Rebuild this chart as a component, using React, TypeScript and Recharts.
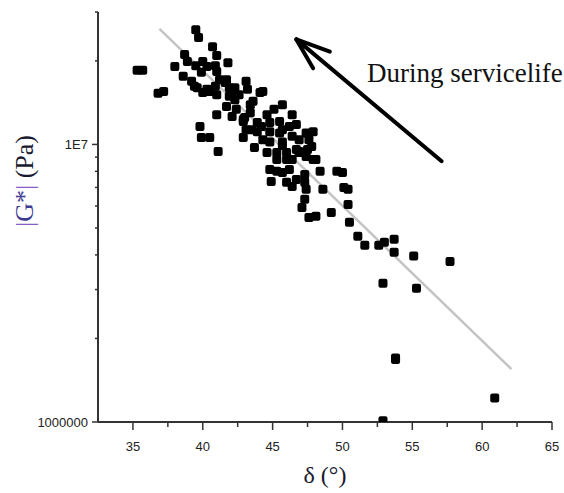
import React from 'react';
import { ScatterChart, Scatter, XAxis, YAxis, ReferenceLine } from 'recharts';

// phase angle (deg) and complex modulus (Pa)
const deltaDeg = [
  35.3, 35.7, 36.8, 37.2, 39.5, 39.7, 40.7, 41.0, 41.8, 38.7,
  38.0, 40.0, 40.9, 39.5, 38.6, 39.2, 39.6, 40.3, 40.9, 39.9,
  40.3, 41.0, 41.7, 42.3, 43.1, 43.2, 44.1, 41.6, 40.0, 41.0,
  42.1, 43.6, 41.9, 41.7, 41.0, 42.4, 43.4, 45.7, 46.4, 44.6,
  42.1, 43.0, 42.9, 43.9, 44.8, 45.5, 46.2, 46.7, 43.1, 39.8,
  39.9, 40.5, 41.1, 42.9, 43.9, 44.3, 43.7, 44.8, 45.5, 46.4,
  47.4, 47.8, 46.7, 45.3, 44.6, 46.0, 47.6, 47.9, 45.7, 46.9,
  47.5, 44.8, 47.4, 48.1, 46.0, 44.8, 45.3, 46.2, 48.4, 44.9,
  46.0, 46.7, 46.4, 47.3, 47.4, 48.6, 45.7, 49.6, 50.0, 50.1,
  50.4, 47.3, 47.1, 47.6, 48.1, 49.2, 50.4, 50.5, 51.1, 51.6,
  52.6, 53.0, 53.7, 53.7, 55.1, 57.7, 52.9, 55.3, 53.8, 53.8,
  60.9, 52.9, 38.9, 39.4, 40.5, 42.3, 44.3, 42.9, 43.5, 44.2,
  45.7, 46.9, 46.4, 45.3, 47.3, 41.2, 41.9, 42.6, 43.4, 45.1,
  45.7, 46.9, 47.9,
];
const modulusPa = [
  1.85e7, 1.85e7, 1.53e7, 1.55e7, 2.59e7, 2.43e7, 2.25e7, 2.09e7, 1.97e7, 2.11e7,
  1.91e7, 1.99e7, 1.92e7, 1.92e7, 1.76e7, 1.69e7, 1.6e7, 1.58e7, 1.62e7, 1.82e7,
  1.91e7, 1.83e7, 1.71e7, 1.6e7, 1.69e7, 1.58e7, 1.54e7, 1.67e7, 1.54e7, 1.51e7,
  1.54e7, 1.43e7, 1.49e7, 1.37e7, 1.28e7, 1.34e7, 1.3e7, 1.39e7, 1.28e7, 1.28e7,
  1.26e7, 1.25e7, 1.21e7, 1.2e7, 1.2e7, 1.21e7, 1.16e7, 1.18e7, 1.13e7, 1.16e7,
  1.06e7, 1.06e7, 9.44e6, 1.06e7, 1.11e7, 1.04e7, 9.75e6, 1.02e7, 1.1e7, 1.07e7,
  1.1e7, 9.84e6, 9.59e6, 9.36e6, 9.36e6, 9.36e6, 1.04e7, 1.11e7, 9.92e6, 9.36e6,
  9.59e6, 1.11e7, 9.05e6, 8.83e6, 8.83e6, 8.13e6, 8.0e6, 8.13e6, 8.0e6, 7.36e6,
  7.3e6, 7.48e6, 7.06e6, 7.3e6, 6.89e6, 6.89e6, 7.93e6, 8.0e6, 7.93e6, 7.0e6,
  6.89e6, 6.34e6, 5.93e6, 5.46e6, 5.51e6, 5.69e6, 6.08e6, 5.24e6, 4.67e6, 4.33e6,
  4.33e6, 4.44e6, 4.55e6, 4.09e6, 3.96e6, 3.79e6, 3.16e6, 3.03e6, 1.70e6, 1.68e6,
  1.22e6, 1.01e6, 1.99e7, 1.62e7, 1.55e7, 1.45e7, 1.55e7, 1.23e7, 1.13e7, 1.16e7,
  1.02e7, 9.44e6, 8.83e6, 8.83e6, 7.8e6, 1.71e7, 1.6e7, 1.51e7, 1.39e7, 1.34e7,
  1.13e7, 1.04e7, 8.83e6,
];

// linear fit drawn across the cloud
const fitDelta = [36.9, 62.1];
const fitModulus = [2.61e7, 1.55e6];

// "During service life" arrow (tail, tip, two barbs)
const arrowDelta = [57.1, 46.7, 49.1, 47.9];
const arrowModulus = [8.7e6, 2.39e7, 2.16e7, 1.88e7];

const xTicks = [35, 37.5, 40, 42.5, 45, 47.5, 50, 52.5, 55, 57.5, 60, 62.5, 65];
const yTicks = [1e6, 2e6, 3e6, 4e6, 5e6, 6e6, 7e6, 8e6, 9e6, 1e7, 2e7, 3e7];
const yTickLabels: Record<string, string> = { '1000000': '1000000', '10000000': '1E7' };

const points = deltaDeg.map((d, i) => ({ x: d, y: modulusPa[i] }));

const AXIS = '#333';
const TICK_FONT = '"Liberation Sans", Arial, sans-serif';
const SERIF = '"Liberation Serif", "Times New Roman", serif';

const SquareDot = (props: any) => {
  const { cx, cy } = props;
  if (cx == null || cy == null) return null;
  return <rect x={cx - 4.5} y={cy - 4.5} width={9} height={9} rx={2} fill="#000" />;
};

const YTick = (props: any) => {
  const { x, y, payload } = props;
  const label = yTickLabels[String(payload.value)];
  const len = label ? 6 : 3;
  return (
    <g>
      <line x1={x - len} x2={x} y1={y} y2={y} stroke={AXIS} strokeWidth={1.5} />
      {label && (
        <text x={x - 10} y={y} textAnchor="end" dominantBaseline="central" fontSize={13} fontFamily={TICK_FONT} fill="#222">
          {label}
        </text>
      )}
    </g>
  );
};

const XTick = (props: any) => {
  const { x, y, payload } = props;
  const major = payload.value % 5 === 0;
  return (
    <g>
      <line x1={x} x2={x} y1={y} y2={y + (major ? 8 : 5)} stroke={AXIS} strokeWidth={1.5} />
      {major && (
        <text x={x} y={y + 29} textAnchor="middle" fontSize={13} fontFamily={TICK_FONT} fill="#222">
          {payload.value}
        </text>
      )}
    </g>
  );
};

const App: React.FC = () => {
  return (
    <div style={{ position: 'absolute', left: 0, top: 0, width: 564, height: 493, background: '#fff' }}>
      <ScatterChart width={564} height={493} margin={{ top: 12, right: 12, bottom: 31, left: 8 }}>
        <XAxis
          type="number"
          dataKey="x"
          domain={[32.5, 65]}
          ticks={xTicks}
          interval={0}
          allowDataOverflow
          tickSize={0}
          tickMargin={0}
          tickLine={false}
          height={40}
          axisLine={{ stroke: AXIS, strokeWidth: 2 }}
          tick={<XTick />}
        />
        <YAxis
          type="number"
          dataKey="y"
          scale="log"
          domain={[1e6, 3e7]}
          ticks={yTicks}
          interval={0}
          allowDataOverflow
          tickSize={0}
          tickMargin={0}
          tickLine={false}
          width={90}
          axisLine={{ stroke: AXIS, strokeWidth: 2 }}
          tick={<YTick />}
        />
        <ReferenceLine
          segment={[{ x: fitDelta[0], y: fitModulus[0] }, { x: fitDelta[1], y: fitModulus[1] }]}
          stroke="#c4c4c4"
          strokeWidth={2.5}
          ifOverflow="visible"
        />
        <Scatter data={points} shape={<SquareDot />} isAnimationActive={false} />
        <ReferenceLine
          segment={[{ x: arrowDelta[0], y: arrowModulus[0] }, { x: arrowDelta[1], y: arrowModulus[1] }]}
          stroke="#000"
          strokeWidth={4}
          strokeLinecap="round"
          ifOverflow="visible"
        />
        <ReferenceLine
          segment={[{ x: arrowDelta[1], y: arrowModulus[1] }, { x: arrowDelta[2], y: arrowModulus[2] }]}
          stroke="#000"
          strokeWidth={4}
          strokeLinecap="round"
          ifOverflow="visible"
        />
        <ReferenceLine
          segment={[{ x: arrowDelta[1], y: arrowModulus[1] }, { x: arrowDelta[3], y: arrowModulus[3] }]}
          stroke="#000"
          strokeWidth={4}
          strokeLinecap="round"
          ifOverflow="visible"
        />
      </ScatterChart>
      <svg width={564} height={493} style={{ position: 'absolute', left: 0, top: 0, pointerEvents: 'none' }}>
        <text x={367} y={82} fontSize={27} fontFamily={SERIF} fill="#111">
          During servicelife
        </text>
        <text x={325} y={483} textAnchor="middle" fontSize={24} fontFamily={SERIF} fill="#1a1a30">
          δ (°)
        </text>
        <text
          x={24}
          y={181}
          textAnchor="middle"
          dominantBaseline="central"
          fontSize={26}
          fontFamily={SERIF}
          transform="rotate(-90, 24, 181)"
        >
          <tspan fill="#8a5cc8">|</tspan>
          <tspan fill="#3d3a94">G*</tspan>
          <tspan fill="#8a5cc8">|</tspan>
          <tspan fill="#1a1a30"> (Pa)</tspan>
        </text>
      </svg>
    </div>
  );
};

export default App;
